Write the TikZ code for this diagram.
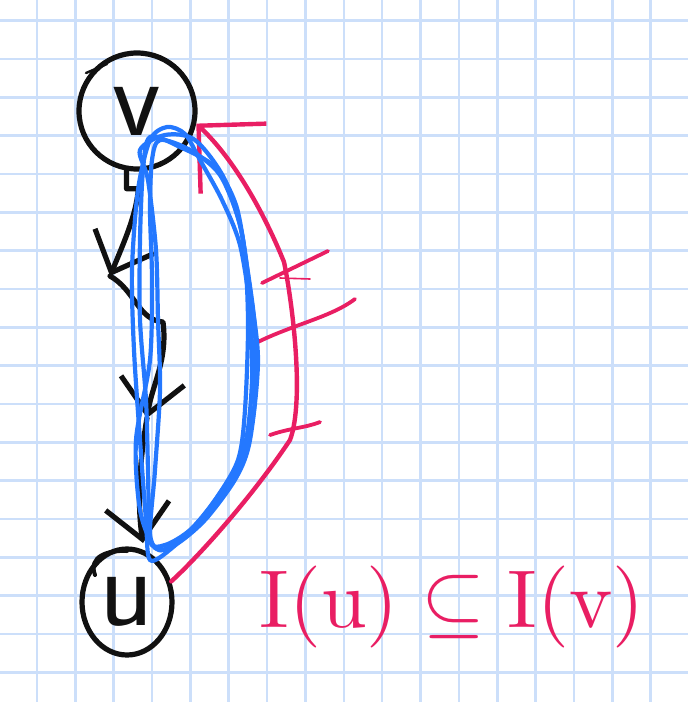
\documentclass[tikz,border=0pt]{standalone}
\usepackage{fontspec}
\usepackage{tikz}
\usetikzlibrary{arrows.meta,shapes.geometric}
\definecolor{ink}{HTML}{111111}
\definecolor{pen}{HTML}{2478FF}
\definecolor{hot}{HTML}{E91E63}
\definecolor{paper}{HTML}{CCDFFA}

\begin{document}
\begin{tikzpicture}[
  x=0.5pt, y=-0.5pt,
  gridline/.style={draw=paper, line width=1.3pt},
  vtx/.style={draw=ink, line width=2.6pt, inner sep=0pt, text=ink, font=\sffamily\fontsize{56}{56}\selectfont},
  chain/.style={draw=ink, line width=2.6pt, line cap=round, line join=round, -{Straight Barb[length=17pt, width=32pt]}},
  loop/.style={draw=pen, line width=2.1pt},
  redpath/.style={draw=hot, line width=2.2pt, line cap=round, line join=round, -{Straight Barb[length=24pt, width=48pt]}},
  tick/.style={draw=hot, line width=1.9pt, line cap=round},
  lbl/.style={text=hot, scale=4.1},
]
\useasboundingbox[fill=white] (0,0) rectangle (688,702);

% squared paper
\foreach \k in {0,...,16}
  \draw[gridline] ({37+38.35*\k},0) -- ({37+38.35*\k},702);
\foreach \k in {0,...,17}
  \draw[gridline] (0,{20.7+38.33*\k}) -- (688,{20.7+38.33*\k});

% vertices
\node[vtx, circle, minimum size=58pt] (v) at (137,111) {v};
\node[vtx, ellipse, minimum width=45pt, minimum height=53pt] (u) at (127,602) {u};
\draw[ink, line width=1.2pt, line cap=round] (86,73) -- (107,64);
\draw[ink, line width=2pt, line cap=round] (95,575) .. controls (88,556) and (108,550) .. (127,551);

% directed path v -> u
\coordinate (a1) at (110,276);
\coordinate (a2) at (147,418);
\coordinate (a3) at (143,543);
\draw[chain] (v.-100) -- ++(0,18) -- ++(12,0) .. controls (136,215) and (125,240) .. (a1);
\draw[chain] (a1) .. controls (135,290) and (138,320) .. (163,322) .. controls (168,360) and (152,385) .. (a2);
\draw[chain] (a2) .. controls (138,470) and (138,510) .. (a3);

% red path u ~> v with hatch marks
\draw[redpath] (u.25) .. controls (195,560) and (250,500) .. (290,440)
  .. controls (305,400) and (292,300) .. (284,262)
  .. controls (265,215) and (235,160) .. (v.-12);
\draw[tick] (262,283) -- (328,251);
\draw[tick, line width=0.8pt] (280,278) -- (310,279);
\draw[tick] (252,345) .. controls (290,325) and (330,318) .. (355,299);
\draw[tick] (270,435) .. controls (290,428) and (305,428) .. (320,422);

% blue loops
\draw[loop] plot[smooth cycle] coordinates {(167,127) (185,134) (200,160) (222,200) (240,245) (250,310) (252,380) (246,440) (230,478) (200,520) (172,548) (150,560) (146,520) (140,440) (134,350) (132,270) (138,190) (150,140)};
\draw[loop] plot[smooth cycle] coordinates {(150,137) (180,147) (215,167) (236,205) (246,260) (255,330) (254,410) (240,465) (210,510) (180,540) (160,550) (150,535) (148,470) (146,400) (140,320) (140,240) (143,170)};
\draw[loop] plot[smooth cycle] coordinates {(160,140) (190,150) (220,175) (240,225) (250,290) (258,360) (250,440) (236,478) (205,520) (175,545) (155,548) (140,510) (136,440) (150,360) (152,280) (150,210) (152,160)};
\draw[loop] plot[smooth cycle] coordinates {(140,150) (165,135) (195,140) (225,180) (243,240) (248,320) (245,410) (238,460) (215,500) (190,530) (165,545) (150,540) (155,470) (160,390) (158,320) (156,250) (148,180)};

% inclusion
\node[lbl] (incl) at (452,607) {$\mathrm{I}(\mathrm{u})\subseteq\mathrm{I}(\mathrm{v})$};
\end{tikzpicture}
\end{document}
